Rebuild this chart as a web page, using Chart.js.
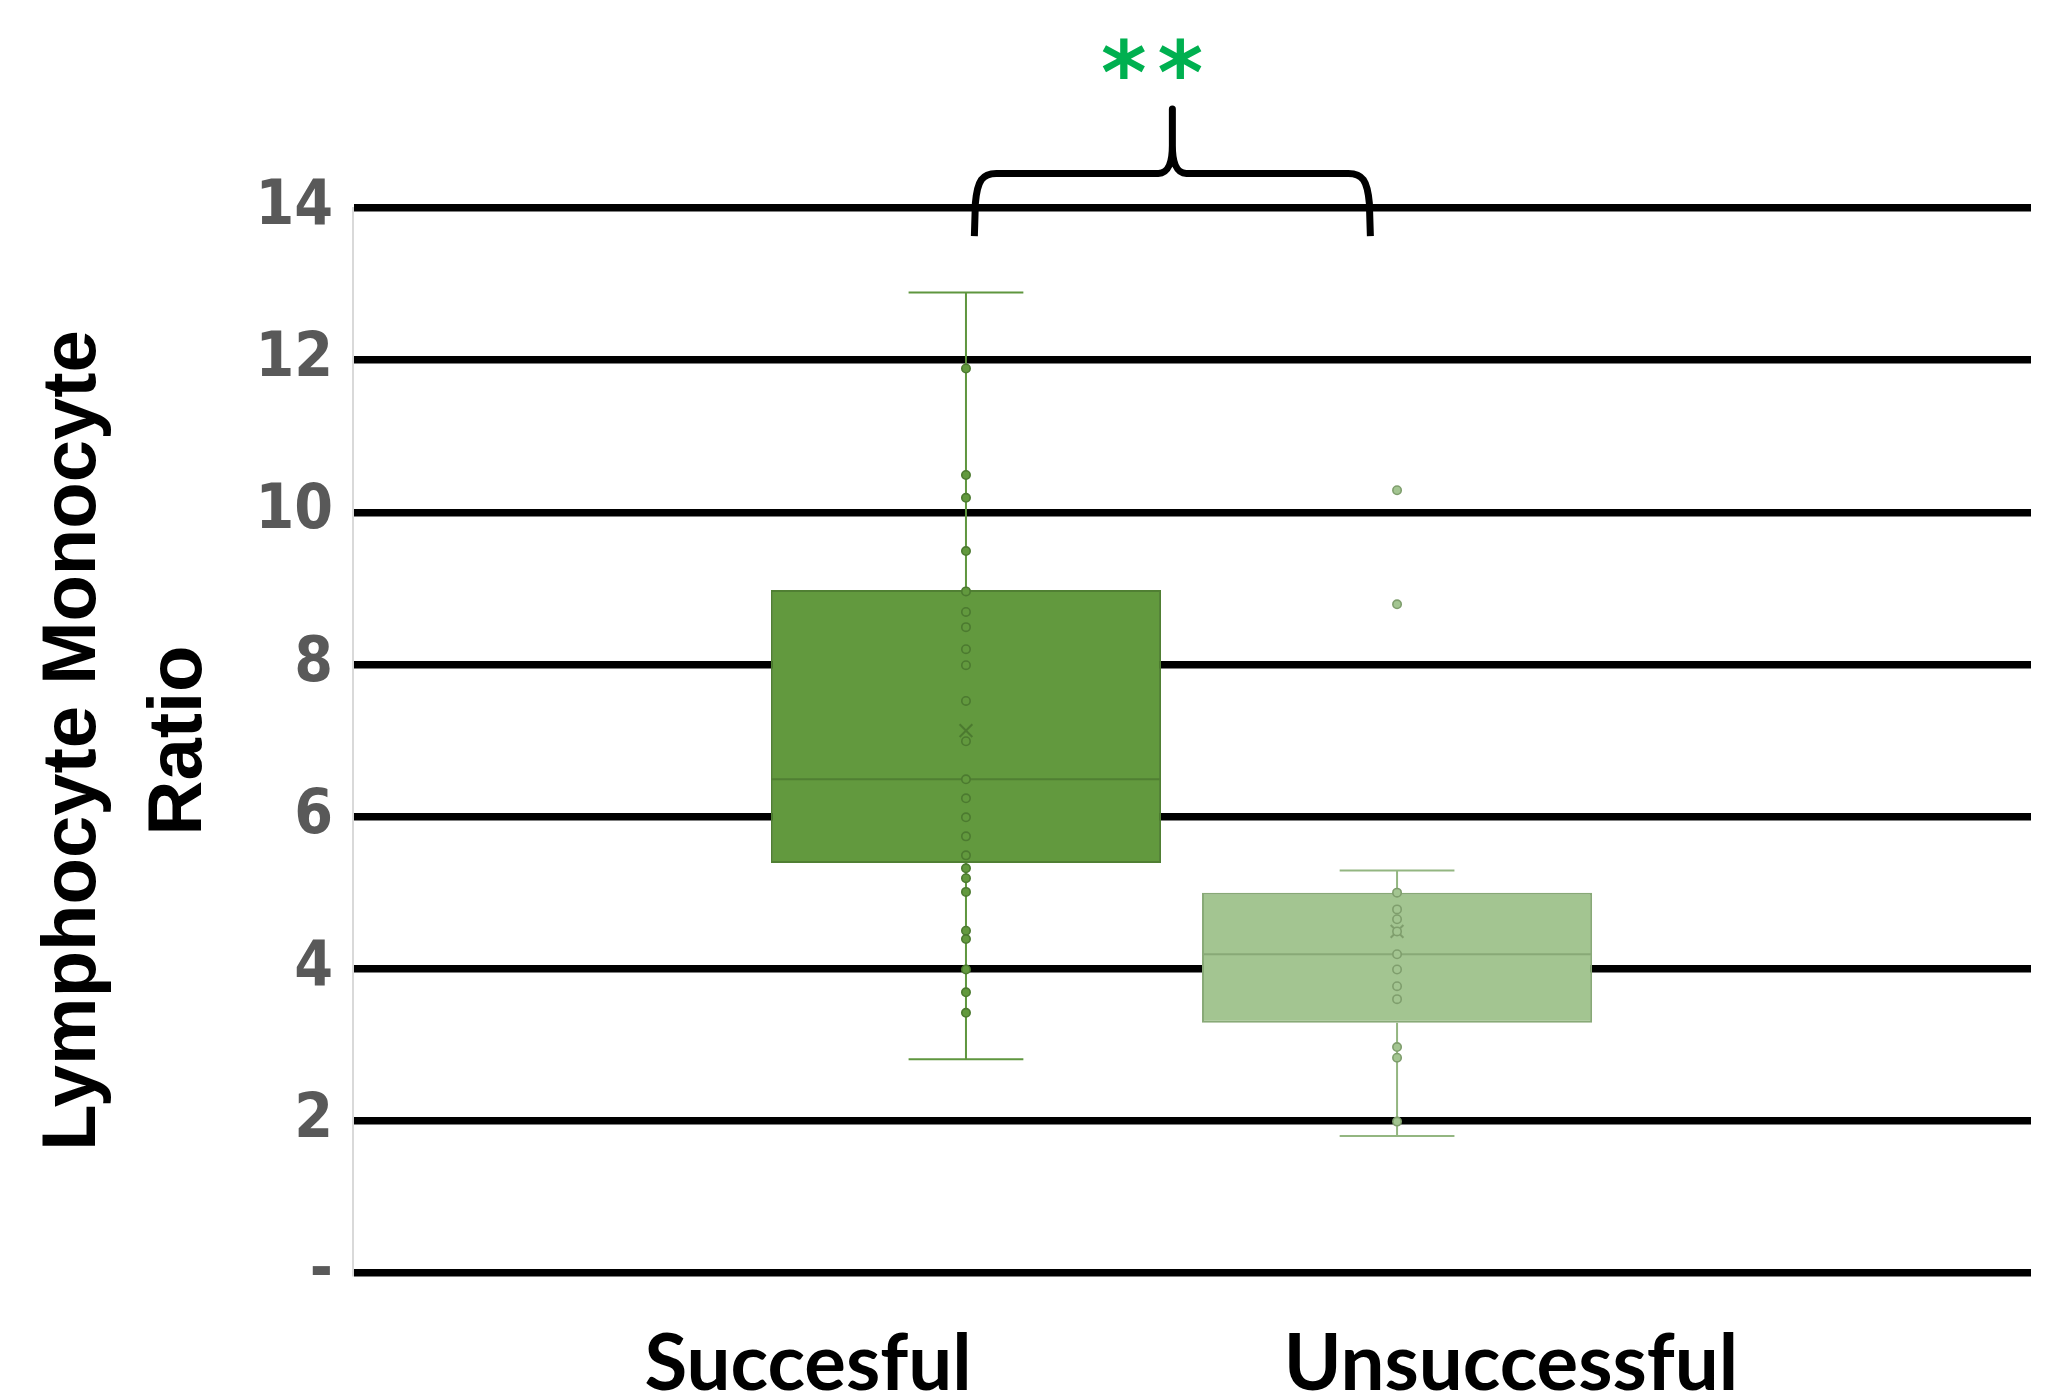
<!DOCTYPE html>
<html>
<head>
<meta charset="utf-8">
<title>Lymphocyte Monocyte Ratio</title>
<script src="https://cdn.jsdelivr.net/npm/chart.js"></script>
<style>
  html, body { margin: 0; padding: 0; background: #ffffff; }
  #wrap { width: 2055px; height: 1394px; }
</style>
</head>
<body>
<div id="wrap"><canvas id="lmr" width="2055" height="1394"></canvas></div>
<script>
// ---- data -------------------------------------------------------------
const categories   = ['Succesful', 'Unsuccessful'];
const whiskerLow   = [2.81, 1.80];
const quartile1    = [5.39, 3.29];
const medians      = [6.49, 4.19];
const quartile3    = [8.98, 5.00];
const whiskerHigh  = [12.89, 5.29];
const means        = [7.13, 4.49];
const succesfulValues = [11.89, 10.49, 10.19, 9.49, 8.96, 8.69, 8.49, 8.20, 7.99, 7.52,
                         6.99, 6.49, 6.24, 5.99, 5.74, 5.49, 5.32, 5.19, 5.01, 4.50,
                         4.39, 3.99, 3.69, 3.42];
const unsuccessfulValues = [10.29, 8.79, 5.00, 4.78, 4.65, 4.49, 4.19, 3.99, 3.77, 3.60,
                            2.97, 2.83, 1.99];
const yTickValues = [0, 2, 4, 6, 8, 10, 12, 14];
const yTickLabels = ['-', '2', '4', '6', '8', '10', '12', '14'];
const significance = ['*', '*'];

// ---- layout (x axis runs 0..100 across the plot) -----------------------
const boxCenter   = [36.53, 62.22];
const boxHalf     = 11.6;
const capHalf     = 3.42;
const labelCenter = [27.12, 69.01];
const braceSpan   = [37.03, 60.63];   // x units
const braceLevel  = 14.455, braceFoot = 13.63, braceTip = 15.30; // y values
const starCenter  = [45.92, 49.28];
const starLevel   = 15.966;

const palette = [
  { fill: '#62993e', edge: '#507f33', whisker: '#5f963f', mark: '#4c7a30' },
  { fill: '#a3c591', edge: '#88a977', whisker: '#93b681', mark: '#7f9e6d' }
];

// ---- datasets -----------------------------------------------------------
const groupValues = [succesfulValues, unsuccessfulValues];
const datasets = [];

groupValues.forEach((vals, g) => {
  datasets.push({
    type: 'scatter', order: 0,
    data: vals.map(v => ({ x: boxCenter[g], y: v })),
    pointRadius: 4.2, pointBorderWidth: 1.6,
    pointBackgroundColor: palette[g].fill,
    pointBorderColor: palette[g].mark
  });
});

datasets.push({
  type: 'scatter', order: 1,
  data: means.map((m, g) => ({ x: boxCenter[g], y: m })),
  pointStyle: 'crossRot', pointRadius: 9, pointBorderWidth: 2,
  pointBorderColor: palette.map(p => p.mark),
  pointBackgroundColor: 'rgba(0,0,0,0)'
});

function segment(points, color) {
  return {
    type: 'line', order: 2, data: points,
    borderColor: color, borderWidth: 2,
    pointRadius: 0, fill: false, tension: 0
  };
}

categories.forEach((_, g) => {
  const c = boxCenter[g];
  const w = palette[g].whisker;
  datasets.push(segment([{ x: c, y: quartile3[g] }, { x: c, y: whiskerHigh[g] }], w));
  datasets.push(segment([{ x: c, y: quartile1[g] }, { x: c, y: whiskerLow[g] }], w));
  datasets.push(segment([{ x: c - capHalf, y: whiskerHigh[g] }, { x: c + capHalf, y: whiskerHigh[g] }], w));
  datasets.push(segment([{ x: c - capHalf, y: whiskerLow[g] }, { x: c + capHalf, y: whiskerLow[g] }], w));
  datasets.push(segment([{ x: c - boxHalf, y: medians[g] }, { x: c + boxHalf, y: medians[g] }], palette[g].edge));
});

datasets.push({
  type: 'bar', order: 3,
  data: categories.map((_, g) => ({ x: boxCenter[g], y: [quartile1[g], quartile3[g]] })),
  backgroundColor: palette.map(p => p.fill),
  borderColor: palette.map(p => p.edge),
  borderWidth: 2, borderSkipped: false,
  categoryPercentage: 1, barPercentage: 0.905
});

// ---- brace and significance stars ---------------------------------------
const significancePlugin = {
  id: 'significance',
  afterDraw(chart) {
    const { ctx, scales: { x, y } } = chart;
    const xl = x.getPixelForValue(braceSpan[0]);
    const xr = x.getPixelForValue(braceSpan[1]);
    const xm = (xl + xr) / 2;
    const yb = y.getPixelForValue(braceLevel);
    const ye = y.getPixelForValue(braceFoot);
    const yt = y.getPixelForValue(braceTip);

    ctx.save();
    ctx.strokeStyle = '#000000';
    ctx.lineWidth = 7;
    ctx.lineJoin = 'round';
    ctx.lineCap = 'butt';
    ctx.beginPath();
    ctx.moveTo(xl, ye);
    ctx.lineTo(xl + 1, yb + 30);
    ctx.bezierCurveTo(xl + 3, yb + 7, xl + 8, yb, xl + 22, yb);
    ctx.lineTo(xm - 14, yb);
    ctx.bezierCurveTo(xm - 4, yb, xm, yb - 12, xm, yb - 28);
    ctx.lineTo(xm, yt);
    ctx.lineTo(xm, yb - 28);
    ctx.bezierCurveTo(xm, yb - 12, xm + 4, yb, xm + 14, yb);
    ctx.lineTo(xr - 22, yb);
    ctx.bezierCurveTo(xr - 8, yb, xr - 3, yb + 7, xr - 1, yb + 30);
    ctx.lineTo(xr, ye);
    ctx.stroke();

    // stars: size the glyph so its ink is 41px tall, centred on each anchor
    const family = "'DejaVu Sans'";
    ctx.font = `bold 100px ${family}`;
    const probe = ctx.measureText('*');
    const probeH = probe.actualBoundingBoxAscent + probe.actualBoundingBoxDescent;
    const size = 100 * 41 / probeH;
    ctx.font = `bold ${size}px ${family}`;
    ctx.fillStyle = '#00b050';
    ctx.textAlign = 'left';
    ctx.textBaseline = 'alphabetic';
    significance.forEach((s, i) => {
      const m = ctx.measureText(s);
      const cx = x.getPixelForValue(starCenter[i]);
      const cy = y.getPixelForValue(starLevel);
      const px = cx - (m.actualBoundingBoxRight - m.actualBoundingBoxLeft) / 2;
      const py = cy + (m.actualBoundingBoxAscent - m.actualBoundingBoxDescent) / 2;
      ctx.fillText(s, px, py);
    });
    ctx.restore();
  }
};

// ---- chart ---------------------------------------------------------------
new Chart(document.getElementById('lmr'), {
  type: 'scatter',
  data: { datasets },
  options: {
    responsive: false,
    devicePixelRatio: 1,
    animation: false,
    events: [],
    layout: { padding: { top: 208, right: 24, bottom: 0, left: 0 } },
    plugins: { legend: { display: false }, tooltip: { enabled: false }, title: { display: false } },
    scales: {
      x: {
        type: 'linear', min: 0, max: 100, offset: false,
        afterBuildTicks: s => { s.ticks = labelCenter.map(v => ({ value: v })); },
        afterFit: s => { s.height = 121; },
        ticks: {
          autoSkip: false, maxRotation: 0, minRotation: 0,
          callback: v => categories[labelCenter.indexOf(v)],
          font: { family: 'Lato', size: 78, weight: 'bold', lineHeight: 1.2 },
          color: '#000000', padding: 45
        },
        grid: { display: false, drawTicks: false },
        border: { display: false }
      },
      y: {
        type: 'linear', min: 0, max: 14,
        afterBuildTicks: s => { s.ticks = yTickValues.map(v => ({ value: v })); },
        afterFit: s => { s.width = 353; },
        ticks: {
          callback: v => yTickLabels[yTickValues.indexOf(v)],
          font: { family: "'DejaVu Sans Condensed', 'DejaVu Sans'", size: 62, weight: 'bold' },
          color: '#595959', padding: 20
        },
        grid: { color: '#000000', lineWidth: 7.5, drawTicks: false },
        border: { display: true, color: '#d9d9d9', width: 2 },
        title: {
          display: true,
          text: ['Lymphocyte Monocyte', 'Ratio'],
          color: '#000000',
          font: { family: "'Liberation Sans'", size: 76, weight: 'bold', lineHeight: 1.395 },
          padding: { top: 21, bottom: 0 }
        }
      }
    }
  },
  plugins: [significancePlugin]
});
</script>
</body>
</html>
